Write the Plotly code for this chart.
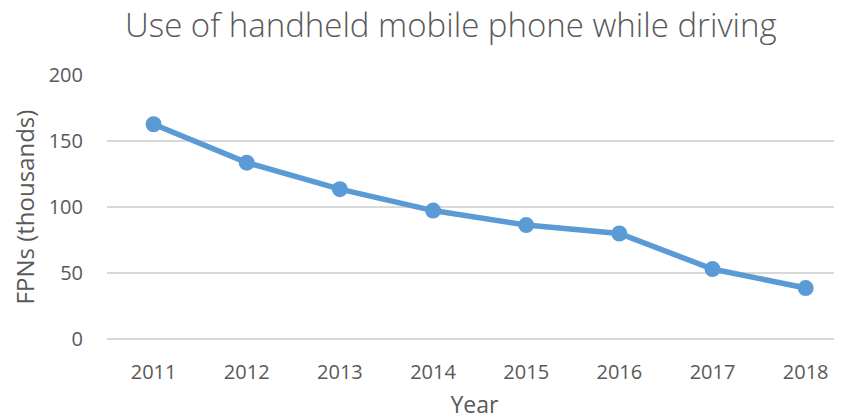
import plotly.graph_objects as go

years = ["2011", "2012", "2013", "2014", "2015", "2016", "2017", "2018"]
fpns_thousands = [162.7, 133.6, 113.5, 97.3, 86.3, 79.9, 53.0, 38.6]
y_ticks = [0, 50, 100, 150, 200]

title_text = "Use of handheld mobile phone while driving"
x_title = "Year"
y_title = "FPNs (thousands)"

grey = "#595959"
blue = "#5B9BD5"
grid = "#D9D9D9"

fig = go.Figure()
fig.add_trace(go.Scatter(
    x=years, y=fpns_thousands, mode="lines+markers",
    line=dict(color=blue, width=5.5),
    marker=dict(color=blue, size=16),
    showlegend=False, hoverinfo="x+y",
))

# The page body adds an 8px offset, so the figure is sized to fill the rest of the window.
fig.update_layout(
    width=834, height=412,
    margin=dict(l=99, r=0, t=67, b=81, autoexpand=False),
    paper_bgcolor="white", plot_bgcolor="white",
    font=dict(family="Open Sans", color=grey),
    title=dict(text=title_text, x=0.531, xanchor="center", y=0.957, yanchor="middle",
               font=dict(family="Open Sans", size=33, color=grey, weight=300)),
    xaxis=dict(type="category", range=[-0.5, 7.39], showgrid=False, zeroline=False,
               automargin=False,
               showline=False, ticks="outside", ticklen=15, tickcolor="rgba(0,0,0,0)",
               tickfont=dict(size=20, color=grey),
               title=dict(text=x_title, font=dict(size=23, color=grey), standoff=18)),
    yaxis=dict(range=[0, 200], tickvals=y_ticks, showgrid=True, gridcolor=grid, gridwidth=1.5,
               automargin=False,
               zeroline=True, zerolinecolor=grid, zerolinewidth=1.5, showline=False,
               ticks="outside", ticklen=19, tickcolor="rgba(0,0,0,0)",
               tickfont=dict(size=20, color=grey),
               title=dict(text=y_title, font=dict(size=24, color=grey), standoff=10)),
)

fig.write_html("out.html")
